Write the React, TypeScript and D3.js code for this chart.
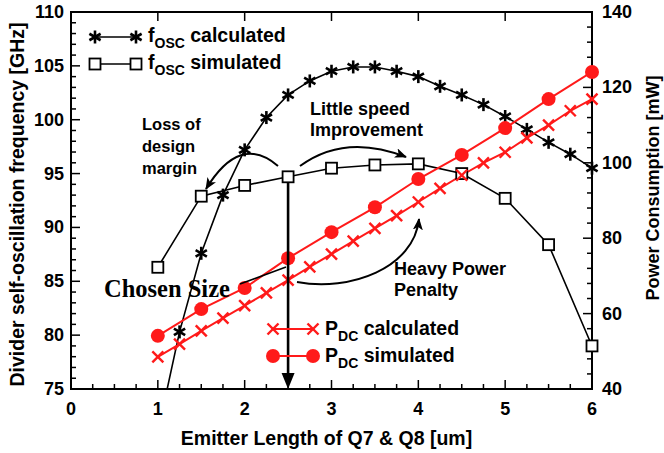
import React from "react";
import * as d3 from "d3";

// ---- data ----
const xFine = [1, 1.25, 1.5, 1.75, 2, 2.25, 2.5, 2.75, 3, 3.25, 3.5, 3.75, 4, 4.25, 4.5, 4.75, 5, 5.25, 5.5, 5.75, 6];
const xCoarse = [1, 1.5, 2, 2.5, 3, 3.5, 4, 4.5, 5, 5.5, 6];
const fOscCalculated = [71, 80.3, 87.6, 93.0, 97.2, 100.2, 102.3, 103.6, 104.5, 104.9, 104.9, 104.5, 104.0, 103.1, 102.3, 101.4, 100.3, 99.1, 97.9, 96.8, 95.5];
const fOscSimulated = [86.3, 92.9, 93.9, 94.7, 95.5, 95.8, 95.9, 95.0, 92.7, 88.4, 79.0];
const pdcCalculated = [48.5, 51.9, 55.4, 58.8, 62.1, 65.5, 68.9, 72.4, 75.8, 79.2, 82.6, 86.0, 89.6, 93.2, 96.7, 100.0, 102.8, 106.6, 110.0, 113.8, 116.9];
const pdcSimulated = [54.1, 61.2, 66.8, 74.7, 81.6, 88.2, 95.7, 102.1, 109.2, 116.9, 124.1];
const xTicks = [0, 1, 2, 3, 4, 5, 6];
const yLeftTicks = [75, 80, 85, 90, 95, 100, 105, 110];
const yRightTicks = [40, 60, 80, 100, 120, 140];
const chosenSize = 2.5;

const FONT = "'Liberation Sans', Arial, Helvetica, sans-serif";
const RED = "#ff1a1a";

const W = 664, H = 453;
const L = 71, R = 592, T = 12, B = 389;

const x = d3.scaleLinear().domain([0, 6]).range([L, R]);
const yL = d3.scaleLinear().domain([75, 110]).range([B, T]);
const yR = d3.scaleLinear().domain([40, 140]).range([B, T]);

function Star({ cx, cy, r = 6.5 }: { cx: number; cy: number; r?: number }) {
  const angs = [90, 30, 150];
  return (
    <g stroke="#000" strokeWidth={2.6} strokeLinecap="butt">
      {angs.map((a) => {
        const rad = (a * Math.PI) / 180;
        const dx = Math.cos(rad) * r, dy = Math.sin(rad) * r;
        return <line key={a} x1={cx - dx} y1={cy - dy} x2={cx + dx} y2={cy + dy} />;
      })}
    </g>
  );
}
function Square({ cx, cy, s = 11 }: { cx: number; cy: number; s?: number }) {
  return <rect x={cx - s / 2} y={cy - s / 2} width={s} height={s} fill="#fff" stroke="#000" strokeWidth={1.8} />;
}
function Cross({ cx, cy, r = 5.5 }: { cx: number; cy: number; r?: number }) {
  return (
    <g stroke={RED} strokeWidth={2.4}>
      <line x1={cx - r} y1={cy - r} x2={cx + r} y2={cy + r} />
      <line x1={cx - r} y1={cy + r} x2={cx + r} y2={cy - r} />
    </g>
  );
}
function Dot({ cx, cy, r = 7 }: { cx: number; cy: number; r?: number }) {
  return <circle cx={cx} cy={cy} r={r} fill={RED} />;
}

export default function App() {
  const lineL = d3.line<[number, number]>().x((d) => x(d[0])).y((d) => yL(d[1]));
  const lineR = d3.line<[number, number]>().x((d) => x(d[0])).y((d) => yR(d[1]));
  const fc: [number, number][] = xFine.map((v, i) => [v, fOscCalculated[i]]);
  const fs: [number, number][] = xCoarse.map((v, i) => [v, fOscSimulated[i]]);
  const pc: [number, number][] = xFine.map((v, i) => [v, pdcCalculated[i]]);
  const ps: [number, number][] = xCoarse.map((v, i) => [v, pdcSimulated[i]]);
  const inL = (d: [number, number]) => d[1] >= 75 && d[1] <= 110;

  const minorX = d3.range(0, 6.001, 0.25).filter((v) => Math.abs(v - Math.round(v)) > 1e-6);
  const minorYL = d3.range(75, 110.001, 1).filter((v) => v % 5 !== 0);
  const minorYR = d3.range(40, 140.001, 4).filter((v) => v % 20 !== 0);

  const ax = x(chosenSize);
  const sqY = yL(fOscSimulated[xCoarse.indexOf(chosenSize)]);

  return (
    <svg width={W} height={H} style={{ position: "absolute", left: 0, top: 0, background: "#fff" }} fontFamily={FONT}>
      <defs>
        <clipPath id="plot">
          <rect x={L} y={T} width={R - L} height={B - T} />
        </clipPath>
        <marker id="ah" viewBox="0 0 12 10" refX="11" refY="5" markerWidth="12" markerHeight="10" markerUnits="userSpaceOnUse" orient="auto">
          <path d="M0,0 L12,5 L0,10 L3,5 Z" fill="#000" />
        </marker>
      </defs>

      {/* ticks */}
      <g stroke="#000" strokeWidth={1.5}>
        {xTicks.map((t) => (
          <g key={"xt" + t}>
            <line x1={x(t)} x2={x(t)} y1={B} y2={B - 9} />
            <line x1={x(t)} x2={x(t)} y1={T} y2={T + 9} />
          </g>
        ))}
        {minorX.map((t) => (
          <line key={"xm" + t} x1={x(t)} x2={x(t)} y1={B} y2={B - 5} />
        ))}
        {yLeftTicks.map((t) => (
          <line key={"yl" + t} x1={L} x2={L + 9} y1={yL(t)} y2={yL(t)} />
        ))}
        {minorYL.map((t) => (
          <line key={"ylm" + t} x1={L} x2={L + 5} y1={yL(t)} y2={yL(t)} />
        ))}
        {yRightTicks.map((t) => (
          <line key={"yr" + t} x1={R} x2={R - 9} y1={yR(t)} y2={yR(t)} />
        ))}
        {minorYR.map((t) => (
          <line key={"yrm" + t} x1={R} x2={R - 5} y1={yR(t)} y2={yR(t)} />
        ))}
      </g>
      <rect x={L} y={T} width={R - L} height={B - T} fill="none" stroke="#000" strokeWidth={2} />

      {/* tick labels */}
      <g fontSize={18} fontWeight="bold" fill="#000">
        {xTicks.map((t) => (
          <text key={"xl" + t} x={x(t)} y={B + 26} textAnchor="middle">{t}</text>
        ))}
        {yLeftTicks.map((t) => (
          <text key={"yll" + t} x={L - 7} y={yL(t) + 6} textAnchor="end">{t}</text>
        ))}
        {yRightTicks.map((t) => (
          <text key={"yrl" + t} x={R + 10} y={yR(t) + 6} textAnchor="start">{t}</text>
        ))}
      </g>

      {/* axis titles */}
      <g fontWeight="bold" fill="#000">
        <text x={(L + R) / 2 - 5} y={445} textAnchor="middle" fontSize={19.5}>Emitter Length of Q7 &amp; Q8 [um]</text>
        <text transform={`translate(24,${(T + B) / 2 + 4}) rotate(-90)`} textAnchor="middle" fontSize={19.5}>Divider self-oscillation frequency [GHz]</text>
        <text transform={`translate(659,${188}) rotate(-90)`} textAnchor="middle" fontSize={18}>Power Consumption [mW]</text>
      </g>

      {/* data lines */}
      <g clipPath="url(#plot)">
        <path d={lineL(fc) || ""} fill="none" stroke="#000" strokeWidth={1.6} />
        <path d={lineL(fs) || ""} fill="none" stroke="#000" strokeWidth={1.6} />
        <path d={lineR(pc) || ""} fill="none" stroke={RED} strokeWidth={2} />
        <path d={lineR(ps) || ""} fill="none" stroke={RED} strokeWidth={2} />
      </g>
      {/* markers */}
      <g>
        {fc.filter(inL).map((d, i) => <Star key={"s" + i} cx={x(d[0])} cy={yL(d[1])} />)}
        {fs.filter(inL).map((d, i) => <Square key={"q" + i} cx={x(d[0])} cy={yL(d[1])} />)}
        {pc.map((d, i) => <Cross key={"c" + i} cx={x(d[0])} cy={yR(d[1])} />)}
        {ps.map((d, i) => <Dot key={"d" + i} cx={x(d[0])} cy={yR(d[1])} />)}
      </g>

      {/* chosen size arrow */}
      <line x1={ax} x2={ax} y1={sqY + 6} y2={B - 14} stroke="#000" strokeWidth={2.6} />
      <path d={`M${ax - 6.5},${B - 16} L${ax + 6.5},${B - 16} L${ax},${B} Z`} fill="#000" />

      {/* annotation arrows */}
      <g fill="none" stroke="#000" strokeWidth={2}>
        <path d="M278,166 Q240,133 206,189" markerEnd="url(#ah)" />
        <path d="M300,166 Q345,133 406,157" markerEnd="url(#ah)" />
        <path d="M297,282 C350,292 414,268 419,219" markerEnd="url(#ah)" />
        <path d="M240,284 L286,267" strokeWidth={1.6} />
      </g>

      {/* annotation text */}
      <g fontWeight="bold" fill="#000">
        <g fontSize={16.5}>
          <text x={142} y={130}>Loss of</text>
          <text x={142} y={152}>design</text>
          <text x={142} y={174}>margin</text>
        </g>
        <g fontSize={18}>
          <text x={310} y={115}>Little speed</text>
          <text x={310} y={136}>Improvement</text>
          <text x={394} y={275}>Heavy Power</text>
          <text x={394} y={296}>Penalty</text>
        </g>
        <text x={104} y={297} fontFamily="'Liberation Serif', 'Times New Roman', serif" fontSize={24.5}>Chosen Size</text>
      </g>

      {/* legend top-left */}
      <g>
        <line x1={95} x2={136} y1={37} y2={37} stroke="#000" strokeWidth={1.6} />
        <Star cx={95} cy={37} />
        <Star cx={136} cy={37} />
        <line x1={95} x2={136} y1={64} y2={64} stroke="#000" strokeWidth={1.6} />
        <Square cx={95} cy={64} />
        <Square cx={136} cy={64} />
        <g fontWeight="bold" fill="#000" fontSize={19.5}>
          <text x={148} y={42}>f<tspan fontSize={14} dy={6}>OSC</tspan><tspan dy={-6}> calculated</tspan></text>
          <text x={148} y={69}>f<tspan fontSize={14} dy={6}>OSC</tspan><tspan dy={-6}> simulated</tspan></text>
        </g>
      </g>

      {/* legend bottom */}
      <g>
        <line x1={273} x2={313} y1={329} y2={329} stroke={RED} strokeWidth={2} />
        <Cross cx={273} cy={329} />
        <Cross cx={313} cy={329} />
        <line x1={273} x2={313} y1={356} y2={356} stroke={RED} strokeWidth={2} />
        <Dot cx={273} cy={356} />
        <Dot cx={313} cy={356} />
        <g fontWeight="bold" fill="#000" fontSize={19.5}>
          <text x={325} y={335}>P<tspan fontSize={14} dy={6}>DC</tspan><tspan dy={-6}> calculated</tspan></text>
          <text x={325} y={362}>P<tspan fontSize={14} dy={6}>DC</tspan><tspan dy={-6}> simulated</tspan></text>
        </g>
      </g>
    </svg>
  );
}
